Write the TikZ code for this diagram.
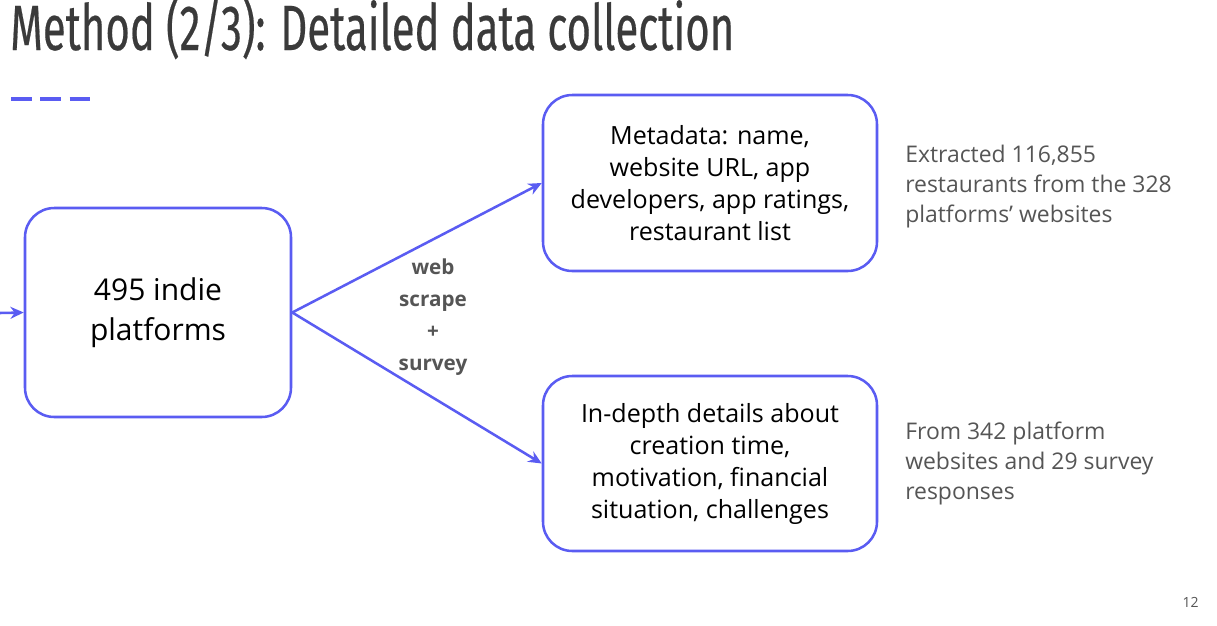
\documentclass[tikz,border=0pt]{standalone}
\usepackage{fontspec}
\setmainfont{Open Sans}
\newfontfamily\titlefont[FakeStretch=0.655, FakeBold=0.3]{Fira Sans}
\usetikzlibrary{arrows.meta}
\definecolor{slideblue}{HTML}{5A5CF2}
\definecolor{titlegray}{HTML}{3A3A3A}
\definecolor{notegray}{HTML}{555555}
\tikzset{
  box/.style={draw=slideblue, line width=1.9pt, rounded corners=22pt, align=center, text=black},
  flow/.style={draw=slideblue, line width=1.9pt, -{Stealth[length=10pt,width=9pt]}},
  note/.style={align=left, anchor=west, inner sep=0pt, text=notegray, font=\fontsize{17.2}{22.5}\selectfont}
}
\begin{document}
\begin{tikzpicture}[x=0.75pt, y=-0.75pt]
          \useasboundingbox (0,0) rectangle (1217,625);
          \node[anchor=base west, inner sep=0pt, text=titlegray, font=\titlefont\fontsize{48}{48}\selectfont] (title) at (10,50){Method (2/3): Detailed data collection};
          \draw[slideblue, line width=2.5pt, dash pattern=on 15.5pt off 6.5pt] (11,99) -- (91,99);
          \node[box, minimum width=199.5pt, minimum height=156.75pt, font=\fontsize{22.5}{30}\selectfont] (plat) at (158,312.5){495 indie\\platforms};
          \node[box, minimum width=250.5pt, minimum height=132pt, font=\fontsize{18.8}{24}\selectfont] (meta) at (710,183){Metadata: name,\\website URL, app\\developers, app ratings,\\restaurant list};
          \node[box, minimum width=250.5pt, minimum height=131.25pt, font=\fontsize{18.8}{24}\selectfont] (depth) at (710,463.5){In-depth details about\\creation time,\\motivation, financial\\situation, challenges};
          \coordinate (src) at (0,313);
          \draw[flow](src) -- (plat.west);
          \draw[flow](plat.east) -- (meta.west);
          \draw[flow](plat.east) -- (depth.west);
          \node[align=center, text=notegray, font=\bfseries\fontsize{15.5}{24}\selectfont] (how) at (433,317){web\\scrape\\+\\survey};
          \node[note] (metanote) at (905,187){Extracted 116,855\\restaurants from the 328\\platforms’ websites};
          \node[note] (depthnote) at (905,463){From 342 platform\\websites and 29 survey\\responses};
          \node[anchor=base east, inner sep=0pt, text=notegray, font=\fontsize{10.5}{12}\selectfont] (page) at (1199,607){12};
        \end{tikzpicture}
\end{document}
